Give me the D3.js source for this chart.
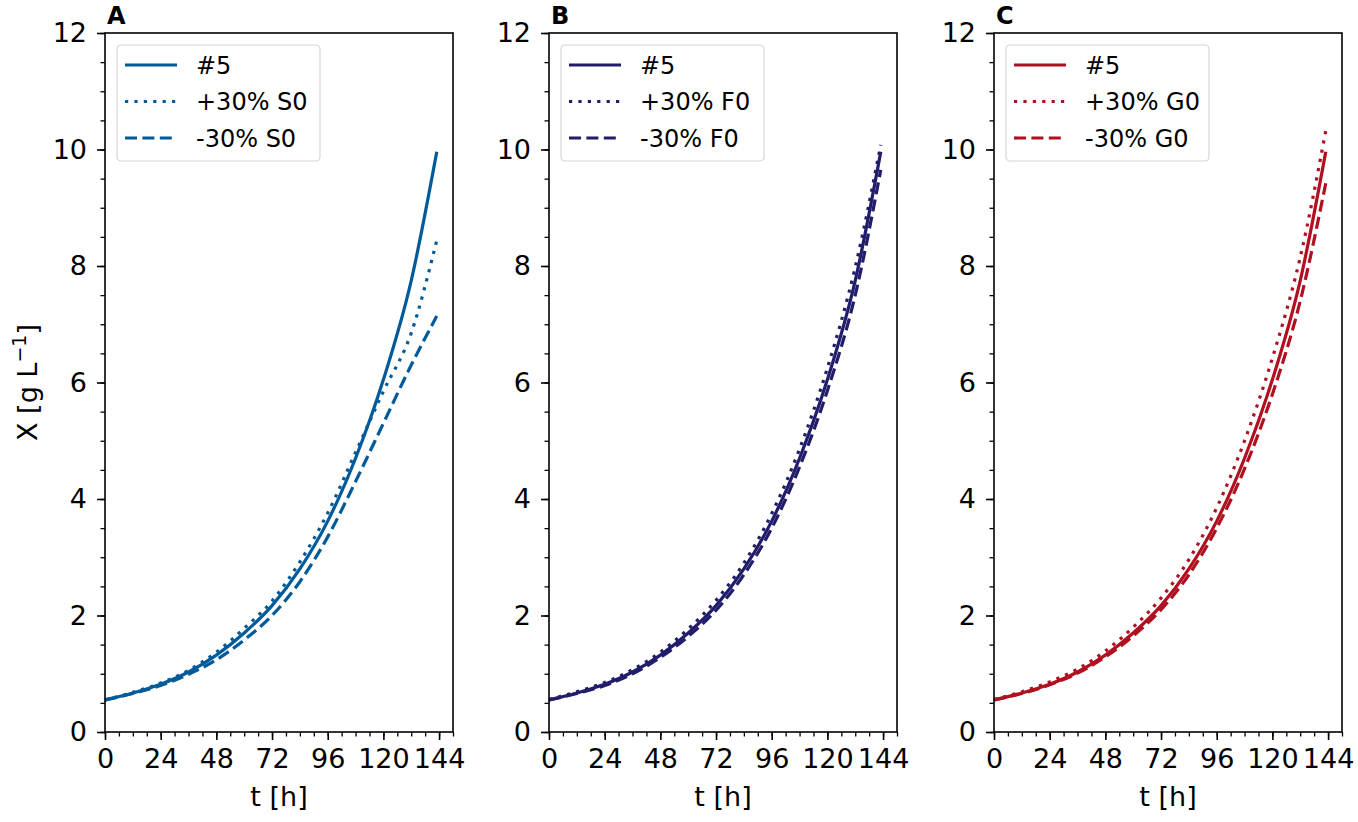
<!DOCTYPE html>
<html>
<head>
<meta charset="utf-8">
<script src="https://cdn.jsdelivr.net/npm/d3@7"></script>
<style>
  body { margin: 0; background: #fff; }
  svg text { font-family: "DejaVu Sans", sans-serif; fill: #000; }
</style>
</head>
<body>
<div id="chart"></div>
<script>
// time points [h]
var times = [0, 12, 24, 36, 48, 60, 72, 84, 96, 108, 120, 132, 143];

// reference run #5 (same in all panels)
var run5 = [0.55, 0.67, 0.82, 1.03, 1.32, 1.70, 2.17, 2.80, 3.62, 4.70, 6.05, 7.75, 9.96];

// panel A: S0 variation
var plusS0  = [0.55, 0.68, 0.84, 1.06, 1.37, 1.78, 2.25, 2.92, 3.76, 4.80, 5.85, 6.85, 8.44];
var minusS0 = [0.55, 0.66, 0.80, 0.99, 1.24, 1.58, 2.00, 2.58, 3.35, 4.30, 5.30, 6.30, 7.14];

// panel B: F0 variation
var plusF0  = [0.56, 0.69, 0.85, 1.07, 1.37, 1.77, 2.26, 2.90, 3.75, 4.86, 6.25, 7.98, 10.08];
var minusF0 = [0.55, 0.66, 0.80, 1.00, 1.28, 1.64, 2.09, 2.70, 3.50, 4.55, 5.86, 7.50, 9.65];

// panel C: G0 variation
var plusG0  = [0.56, 0.69, 0.86, 1.08, 1.39, 1.80, 2.30, 2.96, 3.85, 5.00, 6.42, 8.15, 10.32];
var minusG0 = [0.55, 0.66, 0.81, 1.01, 1.29, 1.65, 2.10, 2.70, 3.50, 4.52, 5.80, 7.40, 9.42];

var panelLetters = ["A", "B", "C"];
var seriesNames = [
  ["#5", "+30% S0", "-30% S0"],
  ["#5", "+30% F0", "-30% F0"],
  ["#5", "+30% G0", "-30% G0"]
];
var xTicks = [0, 24, 48, 72, 96, 120, 144];
var yTicks = [0, 2, 4, 6, 8, 10, 12];

var panelData = [
  [run5, plusS0, minusS0],
  [run5, plusF0, minusF0],
  [run5, plusG0, minusG0]
];
var panelColors = ["#035a99", "#211d6b", "#b0101f"];

var W = 1358, H = 822;
var panelLeft = [105, 549, 994];
var pw = 348, plotTop = 33, plotBottom = 732;
var lw = 3.2;
var dashes = [null, "3.2 6.2", "12 5.4"];

var svg = d3.select("#chart").append("svg")
  .attr("width", W).attr("height", H);

var y = d3.scaleLinear().domain([0, 12]).range([plotBottom, plotTop]);

function drawPanel(p) {
  var x = d3.scaleLinear().domain([0, 150]).range([0, pw]);
  var g = svg.append("g").attr("transform", "translate(" + panelLeft[p] + ",0)");
  var color = panelColors[p];

  // minor ticks
  g.append("g")
    .attr("transform", "translate(0," + plotBottom + ")")
    .call(d3.axisBottom(x).tickValues(d3.range(0, 151, 6)).tickSize(4.5).tickFormat(""))
    .call(s => s.select(".domain").remove())
    .call(s => s.selectAll("line").attr("stroke-width", 1.3));
  g.append("g")
    .call(d3.axisLeft(y).tickValues(d3.range(0, 12.01, 0.5)).tickSize(4.5).tickFormat(""))
    .call(s => s.select(".domain").remove())
    .call(s => s.selectAll("line").attr("stroke-width", 1.3));

  // major ticks
  var xa = g.append("g")
    .attr("transform", "translate(0," + plotBottom + ")")
    .call(d3.axisBottom(x).tickValues(xTicks).tickSize(8).tickPadding(9));
  xa.attr("font-size", 27).attr("font-family", "DejaVu Sans");
  xa.select(".domain").remove();
  xa.selectAll("line").attr("stroke-width", 1.6);

  var ya = g.append("g")
    .call(d3.axisLeft(y).tickValues(yTicks).tickSize(8).tickPadding(10));
  ya.attr("font-size", 27).attr("font-family", "DejaVu Sans");
  ya.select(".domain").remove();
  ya.selectAll("line").attr("stroke-width", 1.6);

  // curves
  var line = d3.line()
    .x((d, i) => x(times[i]))
    .y(d => y(d))
    .curve(d3.curveMonotoneX);

  var clip = "clip" + p;
  g.append("clipPath").attr("id", clip)
    .append("rect").attr("x", 0).attr("y", plotTop).attr("width", pw).attr("height", plotBottom - plotTop);

  // draw dashed first, then dotted, solid on top
  [2, 1, 0].forEach(function(k) {
    g.append("path")
      .datum(panelData[p][k])
      .attr("clip-path", "url(#" + clip + ")")
      .attr("fill", "none")
      .attr("stroke", color)
      .attr("stroke-width", lw)
      .attr("stroke-dasharray", dashes[k])
      .attr("d", line);
  });

  // frame
  g.append("rect")
    .attr("x", 0).attr("y", plotTop).attr("width", pw).attr("height", plotBottom - plotTop)
    .attr("fill", "none").attr("stroke", "#000").attr("stroke-width", 1.6);

  // legend
  var lg = g.append("g").attr("transform", "translate(12," + (plotTop + 12) + ")");
  lg.append("rect")
    .attr("width", 203).attr("height", 116).attr("rx", 4)
    .attr("fill", "#fff").attr("fill-opacity", 0.8)
    .attr("stroke", "#d6d6d6").attr("stroke-width", 1.2);
  seriesNames[p].forEach(function(name, k) {
    var ry = 20 + k * 36.5;
    lg.append("line")
      .attr("x1", 8).attr("x2", 60).attr("y1", ry).attr("y2", ry)
      .attr("stroke", color).attr("stroke-width", lw)
      .attr("stroke-dasharray", dashes[k]);
    lg.append("text")
      .attr("x", 79).attr("y", ry + 8.5)
      .attr("font-size", 24)
      .text(name);
  });

  // panel letter
  g.append("text")
    .attr("x", 2).attr("y", 24)
    .attr("font-family", "DejaVu Sans")
    .attr("font-weight", "bold").attr("font-size", 24)
    .text(panelLetters[p]);

  // x label
  g.append("text")
    .attr("x", pw / 2).attr("y", 806)
    .attr("text-anchor", "middle").attr("font-size", 27)
    .text("t [h]");
}

for (var p = 0; p < 3; p++) drawPanel(p);

// y label (first panel only)
var yl = svg.append("text")
  .attr("transform", "translate(37," + ((plotTop + plotBottom) / 2) + ") rotate(-90)")
  .attr("text-anchor", "middle").attr("font-size", 27);
yl.append("tspan").text("X [g L");
yl.append("tspan").attr("dy", -11).attr("font-size", 19).text("\u22121");
yl.append("tspan").attr("dy", 11).text("]");
</script>
</body>
</html>
